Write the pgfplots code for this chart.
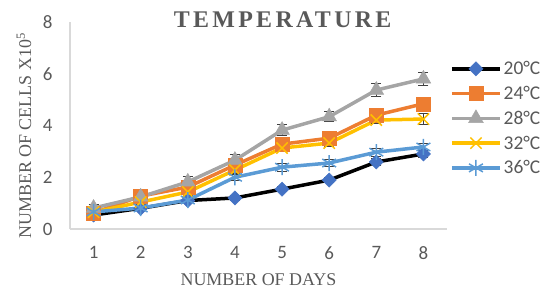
\documentclass[border=0pt]{standalone}
\usepackage{pgfplots}
\pgfplotsset{compat=1.18}
\usepackage{fontspec}
\setmainfont{Liberation Serif}
\newfontfamily\calibri{Carlito}
\definecolor{txtgray}{HTML}{595959}
\definecolor{axgray}{HTML}{D9D9D9}
\definecolor{cblue}{HTML}{4472C4}
\definecolor{corange}{HTML}{ED7D31}
\definecolor{cgray}{HTML}{A5A5A5}
\definecolor{cyellow}{HTML}{FFC000}
\definecolor{clblue}{HTML}{5B9BD5}
\definecolor{errgray}{HTML}{404040}
\begin{document}
\begin{tikzpicture}
\useasboundingbox (-70bp,-62bp) rectangle (474bp,229bp);
\begin{axis}[
  scale only axis, width=377bp, height=207bp,
  at={(0,0)}, anchor=origin,
  xmin=0.5, xmax=8.5, ymin=0, ymax=8,
  xtick={1,...,8}, ytick={0,2,4,6,8},
  axis x line=bottom, axis y line=left,
  axis line style={axgray, line width=1.5bp, -},
  x axis line style={line width=2bp},
  tick style={draw=none},
  /pgf/number format/assume math mode=true,
  ticklabel style={font=\calibri\fontsize{19}{19}\selectfont, text=txtgray},
  yticklabel style={xshift=-12bp},
  xticklabel style={yshift=-12bp},
  xlabel={NUMBER OF DAYS},
  ylabel={NUMBER OF CELLS X10\textsuperscript{5}},
  label style={font=\fontsize{18}{18}\selectfont, text=txtgray},
  xlabel style={at={(axis description cs:0.5,-0.246)}, anchor=center},
  ylabel style={at={(axis description cs:-0.122,0.45)}, anchor=center, rotate=0},
  legend style={at={(axis description cs:1.008,0.82)}, anchor=north west, draw=none, fill=none,
    font=\calibri\fontsize{19.5}{19.5}\selectfont, text=txtgray, row sep=6bp,
    inner sep=0pt},
  legend cell align=left,
  legend image code/.code={\draw[mark repeat=2,mark phase=2,#1] plot coordinates {(0bp,0bp) (24bp,0bp) (48bp,0bp)};},
  clip=false,
  error bars/y dir=both, error bars/y explicit,
  error bars/error bar style={errgray, line width=1bp, solid},
  error bars/error mark options={errgray, rotate=90, mark size=5bp, line width=1bp},
]
\addplot[black, line width=3.5bp, mark=square*, mark size=5bp, mark options={fill=cblue, draw=cblue, rotate=45, line width=0.5bp}]
  coordinates {(1,0.54) +- (0,0.08) (2,0.80) +- (0,0.08) (3,1.10) +- (0,0.08) (4,1.20) +- (0,0.08) (5,1.54) +- (0,0.1) (6,1.89) +- (0,0.1) (7,2.59) +- (0,0.12) (8,2.90) +- (0,0.12)};
\addlegendentry{20°C}
\addplot[corange, line width=3.5bp, mark=square*, mark size=7bp, mark options={fill=corange, draw=corange, line width=0.5bp}]
  coordinates {(1,0.62) +- (0,0.1) (2,1.27) +- (0,0.1) (3,1.62) +- (0,0.12) (4,2.47) +- (0,0.12) (5,3.28) +- (0,0.15) (6,3.51) +- (0,0.15) (7,4.40) +- (0,0.15) (8,4.84) +- (0,0.15)};
\addlegendentry{24°C}
\addplot[cgray, line width=3.5bp, mark=triangle*, mark size=8.5bp, mark options={fill=cgray, draw=cgray, line width=0.5bp}]
  coordinates {(1,0.81) +- (0,0.15) (2,1.24) +- (0,0.15) (3,1.82) +- (0,0.2) (4,2.66) +- (0,0.2) (5,3.82) +- (0,0.2) (6,4.34) +- (0,0.2) (7,5.37) +- (0,0.25) (8,5.80) +- (0,0.25)};
\addlegendentry{28°C}
\addplot[cyellow, line width=3.5bp, mark=x, mark size=8bp, mark options={draw=cyellow, line width=1.5bp}]
  coordinates {(1,0.65) +- (0,0.1) (2,1.04) +- (0,0.1) (3,1.43) +- (0,0.12) (4,2.28) +- (0,0.12) (5,3.13) +- (0,0.15) (6,3.32) +- (0,0.15) (7,4.21) +- (0,0.15) (8,4.25) +- (0,0.2)};
\addlegendentry{32°C}
\addplot[clblue, line width=3.5bp, mark=asterisk, mark size=8bp, mark options={draw=clblue, line width=1.5bp}]
  coordinates {(1,0.66) +- (0,0.1) (2,0.81) +- (0,0.1) (3,1.12) +- (0,0.1) (4,2.00) +- (0,0.12) (5,2.39) +- (0,0.15) (6,2.55) +- (0,0.15) (7,2.97) +- (0,0.15) (8,3.17) +- (0,0.15)};
\addlegendentry{36°C}
\node[font=\bfseries\addfontfeature{LetterSpace=14}\fontsize{24}{24}\selectfont, text=txtgray, anchor=center] at (axis description cs:0.564,1.01) {TEMPERATURE};
\end{axis}
\end{tikzpicture}
\end{document}
